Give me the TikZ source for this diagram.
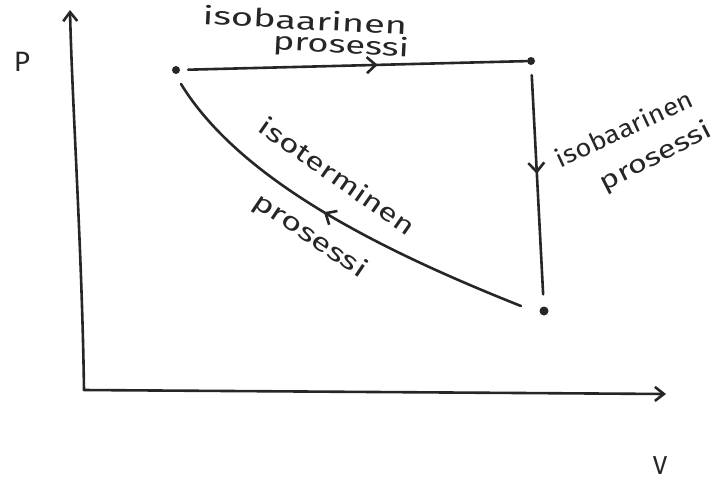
\documentclass[tikz,border=0pt]{standalone}
\usepackage{fontspec}
\setmainfont{Fira Sans}
\usetikzlibrary{arrows.meta,decorations.markings}
\tikzset{
  ink/.style={line width=2.6pt, line cap=round, line join=round, black!85},
  pt/.style={circle, fill=black!85, inner sep=0pt, minimum size=8pt},
  lbl/.style={font=\fontsize{25}{25}\selectfont, text=black!85, inner sep=0pt},
  axarrow/.style={-{Straight Barb[length=9pt,width=14pt,line width=2.6pt]}},
  midarrow/.style={decoration={markings, mark=at position #1 with {\arrow{Straight Barb[length=9pt,width=16pt,line width=2.6pt]}}}, postaction={decorate}},
}
\newcommand{\wide}[2]{\scalebox{#1}[1]{#2}}
\begin{document}
\begin{tikzpicture}[x=1pt,y=-1pt]
\useasboundingbox (0,0) rectangle (719,483);
% axes
\coordinate (O) at (84,390);
\coordinate (Ptop) at (70,10);
\coordinate (Vend) at (666,394);
\draw[ink,axarrow] (O) .. controls (82,250) and (72,100) .. (Ptop);
\draw[ink,axarrow] (O) -- (Vend);
\node[font=\fontsize{28}{28}\selectfont, text=black!85] (P) at (22,62) {P};
\node[font=\fontsize{26}{26}\selectfont, text=black!85] (V) at (660,466) {V};
% points
\node[pt] (A) at (176,70) {};
\node[pt] (B) at (531,61) {};
\node[pt,minimum size=9pt] (C) at (544,311) {};
% processes
\draw[ink,midarrow=0.57,shorten <=8pt] (A) -- (B);
\draw[ink,midarrow=0.45,shorten <=10pt,shorten >=12pt] (B) -- (C);
\draw[ink,midarrow=0.53] (521,306) .. controls (380,250) and (240,180) .. (181,84);
% labels
\node[lbl, rotate=-3] (t1) at (305,20) {\wide{1.52}{isobaarinen}};
\node[lbl, rotate=-3] (t2) at (341,46) {\wide{1.45}{prosessi}};
\node[lbl, rotate=25] (r1) at (624,128) {\wide{1.1}{isobaarinen}};
\node[lbl, rotate=27] (r2) at (656,157) {\wide{1.3}{prosessi}};
\node[lbl, rotate=-35] (c1) at (338,176) {\wide{1.35}{isoterminen}};
\node[lbl, rotate=-34] (c2) at (310,236) {\wide{1.4}{prosessi}};
\end{tikzpicture}
\end{document}
